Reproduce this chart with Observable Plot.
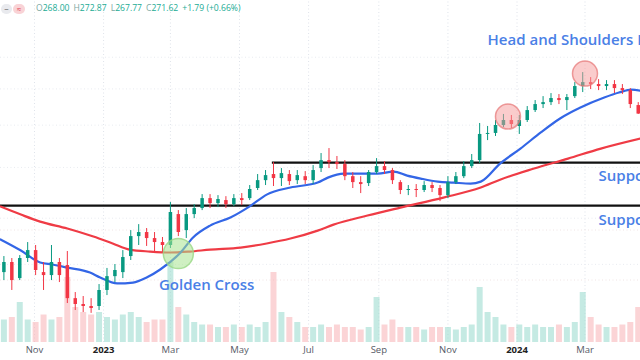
<!DOCTYPE html>
<html><head><meta charset="utf-8">
<script src="https://cdn.jsdelivr.net/npm/d3@7"></script>
<script src="https://cdn.jsdelivr.net/npm/@observablehq/plot@0.6"></script>
<style>
body{margin:0;background:#fff;font-family:"Open Sans",sans-serif;}
#wrap{position:relative;width:640px;height:360px;overflow:hidden;background:#fff;}
#wrap svg{position:absolute;left:0;top:0;}
#hdr{position:absolute;left:1px;top:2px;font-size:8.6px;line-height:12px;z-index:5;white-space:nowrap;font-family:"Open Sans",sans-serif;}
#hdr .ic{display:inline-block;height:10px;border-radius:5px;vertical-align:middle;text-align:center;font-size:8px;line-height:10px;}
#hdr .i1{width:11px;background:#e9eaee;color:#555;}
#hdr .i2{width:12px;background:#f9d3d6;color:#e04050;margin-left:1px;margin-right:11px;}
#hdr .k{color:#7aa7a2;}
#hdr .v{color:#22ab94;margin-right:4px;}
</style></head>
<body><div id="wrap"><div id="hdr"></div></div>
<script>
// Weekly candles (Wednesday of each week)
const weeks = [
"2022-10-05","2022-10-12","2022-10-19","2022-10-26","2022-11-02","2022-11-09","2022-11-16","2022-11-23","2022-11-30","2022-12-07",
"2022-12-14","2022-12-21","2022-12-28","2023-01-04","2023-01-11","2023-01-18","2023-01-25","2023-02-01","2023-02-08","2023-02-15",
"2023-02-22","2023-03-01","2023-03-08","2023-03-15","2023-03-22","2023-03-29","2023-04-05","2023-04-12","2023-04-19","2023-04-26",
"2023-05-03","2023-05-10","2023-05-17","2023-05-24","2023-05-31","2023-06-07","2023-06-14","2023-06-21","2023-06-28","2023-07-05",
"2023-07-12","2023-07-19","2023-07-26","2023-08-02","2023-08-09","2023-08-16","2023-08-23","2023-08-30","2023-09-06","2023-09-13",
"2023-09-20","2023-09-27","2023-10-04","2023-10-11","2023-10-18","2023-10-25","2023-11-01","2023-11-08","2023-11-15","2023-11-22",
"2023-11-29","2023-12-06","2023-12-13","2023-12-20","2023-12-27","2024-01-03","2024-01-10","2024-01-17","2024-01-24","2024-01-31",
"2024-02-07","2024-02-14","2024-02-21","2024-02-28","2024-03-06","2024-03-13","2024-03-20","2024-03-27","2024-04-03","2024-04-10",
"2024-04-17"];
const open = [
145.2,151.1,141.8,153.5,158.4,145.2,143.5,151.1,149.3,131.0,
128.0,127.0,127.0,135.3,142.9,145.2,154.7,167.4,170.1,166.1,
163.5,161.6,182.6,171.4,182.6,187.0,194.5,190.7,193.0,189.9,
194.5,194.5,202.4,208.8,213.9,210.5,213.9,208.8,212.1,208.8,
219.0,226.0,224.2,222.5,212.1,207.2,206.4,215.6,220.7,217.3,
207.2,200.8,201.6,200.8,204.8,202.4,196.8,207.2,212.1,220.7,
226.0,250.6,251.6,259.6,264.8,258.6,264.8,275.4,282.0,284.2,
288.8,286.5,291.0,302.8,307.6,305.2,302.8,305.2,300.4,298.0,
280.9];
const high = [
154.7,153.5,155.3,163.5,161.6,151.1,161.6,153.5,157.8,134.2,
132.1,131.0,138.5,147.6,149.9,158.4,171.4,175.5,172.8,170.1,
166.8,191.5,185.5,187.0,189.9,197.6,197.6,196.8,196.0,197.6,
198.4,204.8,213.9,217.3,224.2,219.0,217.3,217.3,216.4,221.6,
232.4,237.0,229.7,226.0,215.6,212.1,217.3,227.8,225.1,219.0,
208.8,204.8,205.6,208.0,207.2,204.8,212.1,215.6,225.1,231.5,
261.7,258.6,264.8,271.2,270.1,270.1,279.8,286.5,291.0,294.5,
293.4,293.4,307.6,320.0,313.7,311.2,310.0,310.0,305.2,300.4,
284.2];
const low = [
140.7,135.3,140.7,151.1,143.5,135.3,140.7,139.6,128.5,125.0,
124.0,123.6,125.0,132.6,139.6,141.8,152.3,161.6,161.0,157.2,
157.2,159.7,167.4,166.1,179.7,185.5,187.0,187.7,187.0,188.5,
189.2,193.0,200.8,204.8,204.0,204.0,204.8,205.6,205.6,205.6,
215.6,219.0,218.2,208.8,202.4,198.4,204.0,213.9,213.9,205.6,
197.6,196.8,195.3,199.2,199.2,192.2,194.5,205.6,210.5,219.0,
223.4,244.6,248.6,257.6,256.6,250.6,262.7,273.3,277.6,280.9,
282.0,275.4,288.8,295.7,299.2,298.0,298.0,294.5,293.4,277.6,
271.2];
const close = [
151.1,140.7,153.5,158.4,146.4,143.5,151.1,143.5,131.0,128.0,
127.0,126.0,135.3,142.9,146.4,154.1,167.4,170.1,166.1,163.5,
161.6,184.1,170.1,182.6,187.0,194.5,190.7,193.8,189.9,194.5,
193.0,201.6,208.8,213.0,210.5,214.7,208.0,213.0,208.8,217.3,
226.0,224.2,222.5,212.1,207.2,205.6,215.6,220.7,217.3,208.8,
200.8,201.6,200.8,204.8,202.4,196.8,207.2,212.1,220.7,226.0,
250.6,251.6,259.6,264.8,260.6,264.8,275.4,282.0,284.2,288.8,
286.5,289.9,302.8,307.6,305.2,302.8,305.2,300.4,298.0,282.0,
271.6];
const volume = [
9,10,16,9,8,11,9,10,26,14,
12,11,12,10,9,11,12,10,8,9,
9,32,14,11,8,7,7,6,6,7,
6,7,6,8,28,12,10,8,6,6,
7,6,7,6,6,5,6,18,7,9,
6,6,6,5,6,6,6,5,6,7,
22,12,10,7,6,7,6,7,6,6,
7,6,8,20,10,7,6,6,7,8,
14];
// 50-day moving average (blue)
const ma50Dates = ["2022-10-02","2022-10-20","2022-11-06","2022-11-17","2022-11-30","2022-12-20","2022-12-29","2023-01-13","2023-01-27","2023-02-08","2023-02-20","2023-03-10","2023-03-21","2023-04-05","2023-04-23","2023-05-11","2023-05-25","2023-06-15","2023-07-09","2023-07-18","2023-08-01","2023-08-16","2023-08-31","2023-09-14","2023-09-26","2023-10-08","2023-10-23","2023-11-06","2023-11-21","2023-11-30","2023-12-17","2024-01-04","2024-01-22","2024-02-08","2024-02-26","2024-03-18","2024-03-31","2024-04-11","2024-04-19"];
const ma50 = [165.5,158.4,151.1,149.9,148.1,145.2,142.4,139.1,139.6,142.4,147.0,157.2,166.8,174.8,180.5,189.2,197.6,203.2,207.2,211.3,214.7,214.7,214.7,216.4,213.0,210.5,208.0,207.2,206.4,208.0,223.4,237.0,252.6,266.9,278.7,289.9,295.7,299.2,298.0];
// 200-day moving average (red)
const ma200Dates = ["2022-10-02","2022-10-20","2022-11-06","2022-11-30","2022-12-23","2023-01-09","2023-01-24","2023-02-11","2023-03-01","2023-03-18","2023-04-05","2023-05-02","2023-05-25","2023-06-15","2023-07-09","2023-07-23","2023-08-22","2023-09-20","2023-10-28","2023-11-30","2023-12-17","2024-01-16","2024-02-15","2024-03-15","2024-04-19"];
const ma200 = [188.5,182.6,177.6,172.8,167.4,162.9,159.0,157.8,157.2,157.8,159.0,160.3,162.9,166.1,171.4,175.5,181.9,187.7,195.3,203.2,209.6,219.0,227.8,237.0,246.6];
// support levels
const supportLevels = [224.2, 189.2];
const supportStart = ["2023-05-30","2022-10-02"];
// x-axis ticks
const tickDates = ["2022-11-01","2023-01-01","2023-03-01","2023-05-01","2023-07-01","2023-09-01","2023-11-01","2024-01-01","2024-03-01"];
const tickLabels = ["Nov","2023","Mar","May","Jul","Sep","Nov","2024","Mar"];
// annotations
const crossCircle = [{date:"2023-03-08", price:156.5}];
const hsCircles = [{date:"2023-12-24", price:269.0},{date:"2024-03-01", price:318.7}];
const notes = [
  {date:"2023-04-02", price:138.0, text:"Golden Cross", anchor:"middle"},
  {date:"2023-12-06", price:363.1, text:"Head and Shoulders Pattern", anchor:"start"},
  {date:"2024-03-13", price:212.2, text:"Support", anchor:"start"},
  {date:"2024-03-13", price:178.3, text:"Support", anchor:"start"}
];
const header = [["O","268.00"],["H","272.87"],["L","267.77"],["C","271.62"],["","+1.79 (+0.66%)"]];

const UP = "#089981", DOWN = "#f23645";
const xDomain = [new Date("2022-10-02"), new Date("2024-04-19")];
const candles = weeks.map((w,i)=>({date:new Date(w), o:open[i], h:high[i], l:low[i], c:close[i], v:volume[i]}));
const col = d => d.c >= d.o ? UP : DOWN;
const ticks = tickDates.map((d,i)=>({date:new Date(d), label:tickLabels[i], year:/^\d{4}$/.test(tickLabels[i])}));
const ma50Data = ma50Dates.map((d,i)=>({date:new Date(d), v:ma50[i]}));
const ma200Data = ma200Dates.map((d,i)=>({date:new Date(d), v:ma200[i]}));
const supports = supportLevels.map((p,i)=>({p, x1:new Date(supportStart[i]), x2:xDomain[1]}));
const pd = a => a.map(d=>({...d, date:new Date(d.date)}));

const volPlot = Plot.plot({
  width:640, height:360, marginTop:0, marginLeft:0, marginRight:0, marginBottom:18,
  style:{fontFamily:"Open Sans, sans-serif", background:"#fff", overflow:"visible"},
  x:{type:"utc", domain:xDomain, axis:null},
  y:{domain:[0,136.8], axis:null},
  marks:[
    Plot.ruleX(ticks, {x:"date", y1:0, y2:136.8, stroke:"#dfe3ea", strokeDasharray:"1,2.5", strokeWidth:1}),
    Plot.ruleY([25,45], {stroke:"#f0e4e4", strokeDasharray:"1,2.5"}),
    Plot.ruleX(candles, {x:"date", y1:0, y2:"v", stroke:d=>d.c>=d.o?"#9fdcd1":"#f9b7bb", strokeWidth:6, strokeOpacity:0.6}),
    Plot.text(ticks.filter(t=>!t.year), {x:"date", text:"label", frameAnchor:"bottom", dy:10, fontSize:9.5, fill:"#555a66"}),
    Plot.text(ticks.filter(t=>t.year), {x:"date", text:"label", frameAnchor:"bottom", dy:10, fontSize:9.5, fill:"#222", fontWeight:"bold"})
  ]
});

const pricePlot = Plot.plot({
  width:640, height:360, margin:0,
  style:{fontFamily:"Open Sans, sans-serif", background:"transparent", overflow:"visible"},
  x:{type:"utc", domain:xDomain, axis:null},
  y:{type:"log", domain:[102.6,425.4], axis:null},
  marks:[
    Plot.ruleY([150,180,220,260,300,340], {stroke:"#e8ebf0", strokeDasharray:"1,2.5"}),
    Plot.ruleY(supports, {y:"p", x1:"x1", x2:"x2", stroke:"#111", strokeWidth:2.4}),
    Plot.line(ma200Data, {x:"date", y:"v", stroke:"#ef3b45", strokeWidth:2.2, curve:"monotone-x"}),
    Plot.line(ma50Data, {x:"date", y:"v", stroke:"#3366e6", strokeWidth:2.2, curve:"monotone-x"}),
    Plot.ruleX(candles, {x:"date", y1:"l", y2:"h", stroke:col, strokeWidth:1}),
    Plot.ruleX(candles, {x:"date", y1:"o", y2:"c", stroke:col, strokeWidth:3.5}),
    Plot.dot(pd(crossCircle), {x:"date", y:"price", r:15, fill:"#a8e38f", fillOpacity:0.55, stroke:"#9ad886", strokeOpacity:0.8}),
    Plot.dot(pd(hsCircles), {x:"date", y:"price", r:12.5, fill:"#f59a9a", fillOpacity:0.5, stroke:"#e57373", strokeOpacity:0.7}),
    Plot.text(pd(notes.filter(n=>n.anchor==="middle")), {x:"date", y:"price", text:"text", textAnchor:"middle", fontSize:15, fill:"#4a80e6", fontWeight:600}),
    Plot.text(pd(notes.filter(n=>n.anchor==="start")), {x:"date", y:"price", text:"text", textAnchor:"start", fontSize:15, fill:"#4a80e6", fontWeight:600})
  ]
});

const wrap = document.getElementById("wrap");
wrap.appendChild(volPlot);
wrap.appendChild(pricePlot);
const hdr = document.getElementById("hdr");
hdr.innerHTML = '<span class="ic i1">&#8722;</span><span class="ic i2">&#8776;</span>' +
  header.map(([k,v])=>(k?'<span class="k">'+k+'</span>':'')+'<span class="v">'+v+'</span>').join('');
</script>
</body></html>
